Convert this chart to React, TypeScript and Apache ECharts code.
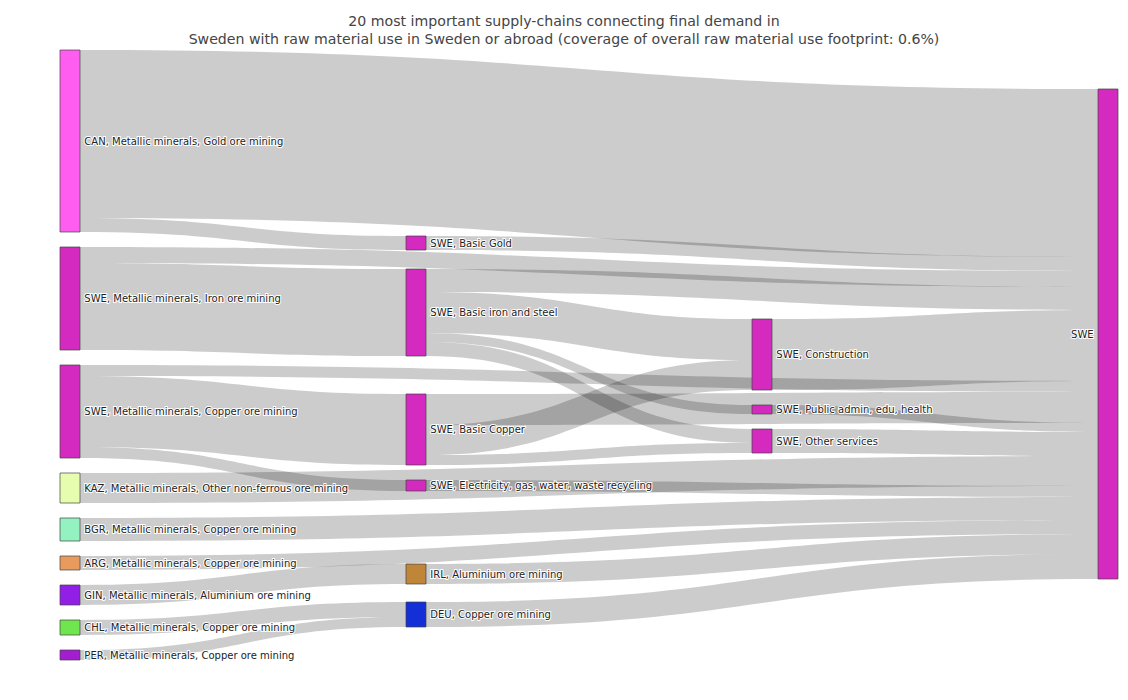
import React, { useEffect, useRef } from "react";
import * as echarts from "echarts";

// ---------- data ----------
const titleLines = [
  "20 most important supply-chains connecting final demand in",
  "Sweden with raw material use in Sweden or abroad (coverage of overall raw material use footprint: 0.6%)",
];

// nodes, grouped by column (stage of the supply chain)
const extractionNodes = [
  "CAN, Metallic minerals, Gold ore mining",
  "SWE, Metallic minerals, Iron ore mining",
  "SWE, Metallic minerals, Copper ore mining",
  "KAZ, Metallic minerals, Other non-ferrous ore mining",
  "BGR, Metallic minerals, Copper ore mining",
  "ARG, Metallic minerals, Copper ore mining",
  "GIN, Metallic minerals, Aluminium ore mining",
  "CHL, Metallic minerals, Copper ore mining",
  "PER, Metallic minerals, Copper ore mining",
];
const processingNodes = [
  "SWE, Basic Gold",
  "SWE, Basic iron and steel",
  "SWE, Basic Copper",
  "SWE, Electricity, gas, water, waste recycling",
  "IRL, Aluminium ore mining",
  "DEU, Copper ore mining",
];
const serviceNodes = [
  "SWE, Construction",
  "SWE, Public admin, edu, health",
  "SWE, Other services",
];
const finalDemandNodes = ["SWE"];

// links (raw material flows)
const linkSources = [
  "CAN, Metallic minerals, Gold ore mining",
  "CAN, Metallic minerals, Gold ore mining",
  "SWE, Basic Gold",
  "SWE, Metallic minerals, Iron ore mining",
  "SWE, Metallic minerals, Iron ore mining",
  "SWE, Basic iron and steel",
  "SWE, Basic iron and steel",
  "SWE, Basic iron and steel",
  "SWE, Basic iron and steel",
  "SWE, Metallic minerals, Copper ore mining",
  "SWE, Metallic minerals, Copper ore mining",
  "SWE, Metallic minerals, Copper ore mining",
  "SWE, Basic Copper",
  "SWE, Basic Copper",
  "SWE, Basic Copper",
  "SWE, Construction",
  "SWE, Public admin, edu, health",
  "SWE, Other services",
  "SWE, Electricity, gas, water, waste recycling",
  "KAZ, Metallic minerals, Other non-ferrous ore mining",
  "BGR, Metallic minerals, Copper ore mining",
  "ARG, Metallic minerals, Copper ore mining",
  "GIN, Metallic minerals, Aluminium ore mining",
  "IRL, Aluminium ore mining",
  "CHL, Metallic minerals, Copper ore mining",
  "PER, Metallic minerals, Copper ore mining",
  "DEU, Copper ore mining",
];
const linkTargets = [
  "SWE",
  "SWE, Basic Gold",
  "SWE",
  "SWE",
  "SWE, Basic iron and steel",
  "SWE",
  "SWE, Construction",
  "SWE, Public admin, edu, health",
  "SWE, Other services",
  "SWE",
  "SWE, Basic Copper",
  "SWE, Electricity, gas, water, waste recycling",
  "SWE",
  "SWE, Construction",
  "SWE, Other services",
  "SWE",
  "SWE",
  "SWE",
  "SWE",
  "SWE",
  "SWE",
  "SWE",
  "IRL, Aluminium ore mining",
  "SWE",
  "DEU, Copper ore mining",
  "DEU, Copper ore mining",
  "SWE",
];
const linkValues = [
  168, 14, 14, 16, 87, 23, 41, 9, 14, 11, 71, 11, 31, 30, 10, 71, 9, 24, 11, 30,
  23, 14, 20, 20, 15, 10, 25,
];

// ---------- layout (vertical spacing before each node, in value units) ----------
const columns = [extractionNodes, processingNodes, serviceNodes, finalDemandNodes];
const columnGaps = [
  [0, 15, 15, 15, 15, 15, 15, 15, 15],
  [186, 19, 38, 15, 73, 18],
  [269, 15, 15],
  [39],
];

// ---------- styles ----------
const SWE_COLOR = "#d42abf";
const nodeColors: Record<string, string> = {
  "CAN, Metallic minerals, Gold ore mining": "#ff5cf0",
  "KAZ, Metallic minerals, Other non-ferrous ore mining": "#e6fdb0",
  "BGR, Metallic minerals, Copper ore mining": "#93f2c0",
  "ARG, Metallic minerals, Copper ore mining": "#e89b5c",
  "GIN, Metallic minerals, Aluminium ore mining": "#921fe6",
  "CHL, Metallic minerals, Copper ore mining": "#6fe54e",
  "PER, Metallic minerals, Copper ore mining": "#a21ed0",
  "IRL, Aluminium ore mining": "#bf8538",
  "DEU, Copper ore mining": "#122fd8",
};

export default function App() {
  const ref = useRef<HTMLDivElement>(null);

  useEffect(() => {
    if (!ref.current) return;
    const chart = echarts.init(ref.current, null, { renderer: "svg" });

    const nodes: any[] = [];
    columns.forEach((col, depth) => {
      col.forEach((name, i) => {
        const gap = columnGaps[depth][i];
        if (gap > 0) {
          nodes.push({
            name: `__spacer_${depth}_${i}`,
            value: gap,
            depth,
            itemStyle: { color: "rgba(0,0,0,0)", borderWidth: 0 },
            label: { show: false },
          });
        }
        nodes.push({
          name,
          depth,
          itemStyle: { color: nodeColors[name] || SWE_COLOR },
          label: depth === 3 ? { position: "left" } : undefined,
        });
      });
    });

    const links = linkValues.map((v, i) => ({
      source: linkSources[i],
      target: linkTargets[i],
      value: v,
    }));

    chart.setOption({
      animation: false,
      backgroundColor: "#ffffff",
      title: {
        text: titleLines.join("\n"),
        left: "center",
        top: -1,
        textStyle: {
          fontSize: 14.15,
          fontWeight: "normal",
          color: "#444",
          fontFamily: "DejaVu Sans",
          lineHeight: 18,
        },
      },
      tooltip: { show: false },
      series: [
        {
          type: "sankey",
          left: 52,
          right: 2,
          top: 42,
          bottom: 32,
          nodeWidth: 20,
          nodeGap: 0,
          layoutIterations: 0,
          nodeAlign: "justify",
          draggable: false,
          emphasis: { disabled: true },
          data: nodes,
          links,
          itemStyle: { borderColor: "#444", borderWidth: 0.7 },
          lineStyle: { color: "#000", opacity: 0.2, curveness: 0.5 },
          label: {
            show: true,
            position: "right",
            distance: 4,
            color: "#222",
            fontSize: 10,
            fontFamily: "DejaVu Sans",
            textBorderColor: "#fff",
            textBorderWidth: 2,
          },
        },
      ],
    });

    return () => chart.dispose();
  }, []);

  return (
    <div
      ref={ref}
      style={{ position: "fixed", left: 0, top: 0, width: 1112, height: 684 }}
    />
  );
}
